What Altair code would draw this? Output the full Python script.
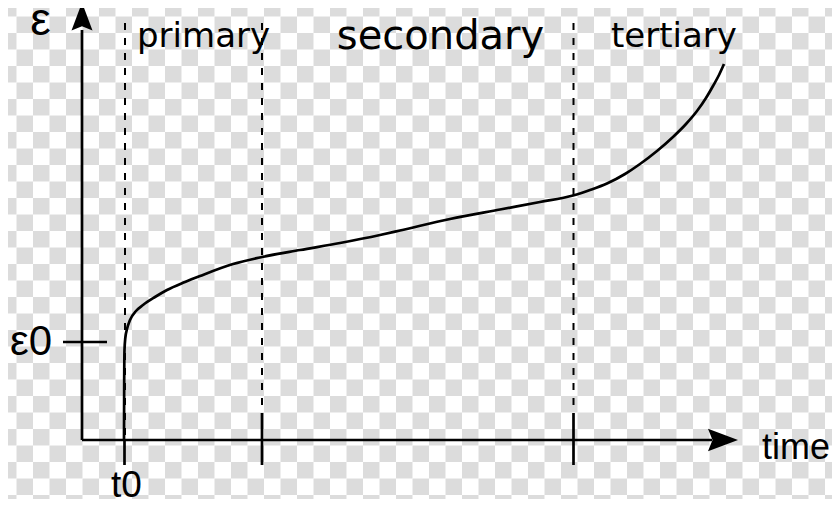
import altair as alt
import pandas as pd

# ---- creep curve (time, strain) in diagram units ----
curve_t = [4.2, 4.22, 4.25, 4.33, 4.5, 4.8, 5.4, 6.1, 7.3, 8.5, 10.3, 11.8, 15.1, 18.0,
           21.8, 25.8, 29.8, 31.8, 36.8, 41.8, 45.8, 49.1, 50.8, 52.5, 54.3, 55.8, 57.5,
           59.1, 60.4, 61.5, 62.4, 63.1, 63.7, 64.2]
curve_e = [0.0, 6.0, 9.0, 10.2, 11.1, 12.0, 12.9, 13.5, 14.3, 15.0, 15.8, 16.4, 17.6, 18.3,
           19.0, 19.7, 20.5, 20.95, 22.1, 23.05, 23.8, 24.45, 25.0, 25.65, 26.6, 27.6, 28.9,
           30.3, 31.6, 32.9, 34.2, 35.4, 36.5, 37.6]

# ---- stage boundaries and reference values ----
T0 = 4.25          # t0
T1 = 18.0          # primary / secondary boundary
T2 = 49.15         # secondary / tertiary boundary
EPS0 = 9.8         # ε0
stage_names = ["primary", "secondary", "tertiary"]

X_DOM = [-7.4, 75.0]
Y_DOM = [-5.9, 43.2]
xs = alt.Scale(domain=X_DOM, zero=False, nice=False)
ys = alt.Scale(domain=Y_DOM, zero=False, nice=False)

def X(f):
    return alt.X(f, type="quantitative", scale=xs, axis=None)

def Y(f):
    return alt.Y(f, type="quantitative", scale=ys, axis=None)

# ---- checkerboard (transparency pattern of the original picture) ----
cells = []
S = 1.65
for r in range(32):
    for c in range(52):
        if (r + c) % 2 == 0:
            cells.append({"x": c * S - 8.2, "x2": (c + 1) * S - 8.2,
                          "y": 44.0 - r * S, "y2": 44.0 - (r + 1) * S})
checker = alt.Chart(pd.DataFrame(cells)).mark_rect(color="#dcdcdc", clip=True).encode(
    x=X("x"), x2="x2", y=Y("y"), y2="y2")

# ---- solid segments: axes and ticks ----
solid = pd.DataFrame({
    "x":  [0.0, 0.0, -1.9, T0, T1, T2],
    "y":  [0.0, 0.0, EPS0, 0.0, 2.7, 2.7],
    "x2": [0.0, 63.0, 2.5, T0, T1, T2],
    "y2": [41.0, 0.0, EPS0, -2.5, -2.5, -2.5],
})
solid_rules = alt.Chart(solid).mark_rule(color="black", strokeWidth=2.7).encode(
    x=X("x"), y=Y("y"), x2="x2", y2="y2")

# ---- dashed stage boundaries ----
dashed = pd.DataFrame({"x": [T0 + 0.05, T1, T2], "y": [41.7, 41.7, 41.7], "y2": [0.0, 2.7, 2.7]})
dashed_rules = alt.Chart(dashed).mark_rule(color="black", strokeWidth=2.0, strokeDash=[7, 8]).encode(
    x=X("x"), y=Y("y"), y2="y2")

# ---- curve ----
cdf = pd.DataFrame({"t": curve_t, "e": curve_e, "i": list(range(len(curve_t)))})
curve = alt.Chart(cdf).mark_line(color="black", strokeWidth=2.7, interpolate="monotone").encode(
    x=X("t"), y=Y("e"), order="i:Q")

# ---- arrowheads ----
up = alt.Chart(pd.DataFrame({"x": [0.0], "y": [42.35]})).mark_point(
    shape="M0,-1L0.75,1L0,0.7L-0.75,1Z", filled=True, size=784, color="black", opacity=1, strokeWidth=0
).encode(x=X("x"), y=Y("y"))
right = alt.Chart(pd.DataFrame({"x": [64.1], "y": [0.0]})).mark_point(
    shape="M1,0L-1,0.75L-0.7,0L-1,-0.75Z", filled=True, size=900, color="black", opacity=1, strokeWidth=0
).encode(x=X("x"), y=Y("y"))

# ---- labels ----
def label(text, x, y, size, font, align):
    return alt.Chart(pd.DataFrame({"x": [x], "y": [y], "t": [text]})).mark_text(
        font=font, fontSize=size, align=align, baseline="alphabetic", color="black"
    ).encode(x=X("x"), y=Y("y"), text="t:N")

labels = [
    label("ε", -4.15, 40.5, 46, "Liberation Sans", "center"),
    label("ε0", -3.0, 8.5, 42, "Liberation Sans", "right"),
    label("t0", 4.45, -5.7, 37, "Liberation Sans", "center"),
    label("time", 68.0, -1.9, 36, "Liberation Sans", "left"),
    label(stage_names[0], 5.5, 39.3, 34, "DejaVu Sans", "left"),
    label(stage_names[1], 35.85, 39.1, 40, "DejaVu Sans", "center"),
    label(stage_names[2], 52.9, 39.3, 34, "DejaVu Sans", "left"),
]

chart = alt.layer(checker, dashed_rules, solid_rules, curve, up, right, *labels).properties(
    width=824, height=491, padding=0, autosize=alt.AutoSizeParams(type="none"),
    background="white"
).configure_view(stroke=None)

chart.save("out.html", embed_options={"renderer": "svg", "actions": False})
